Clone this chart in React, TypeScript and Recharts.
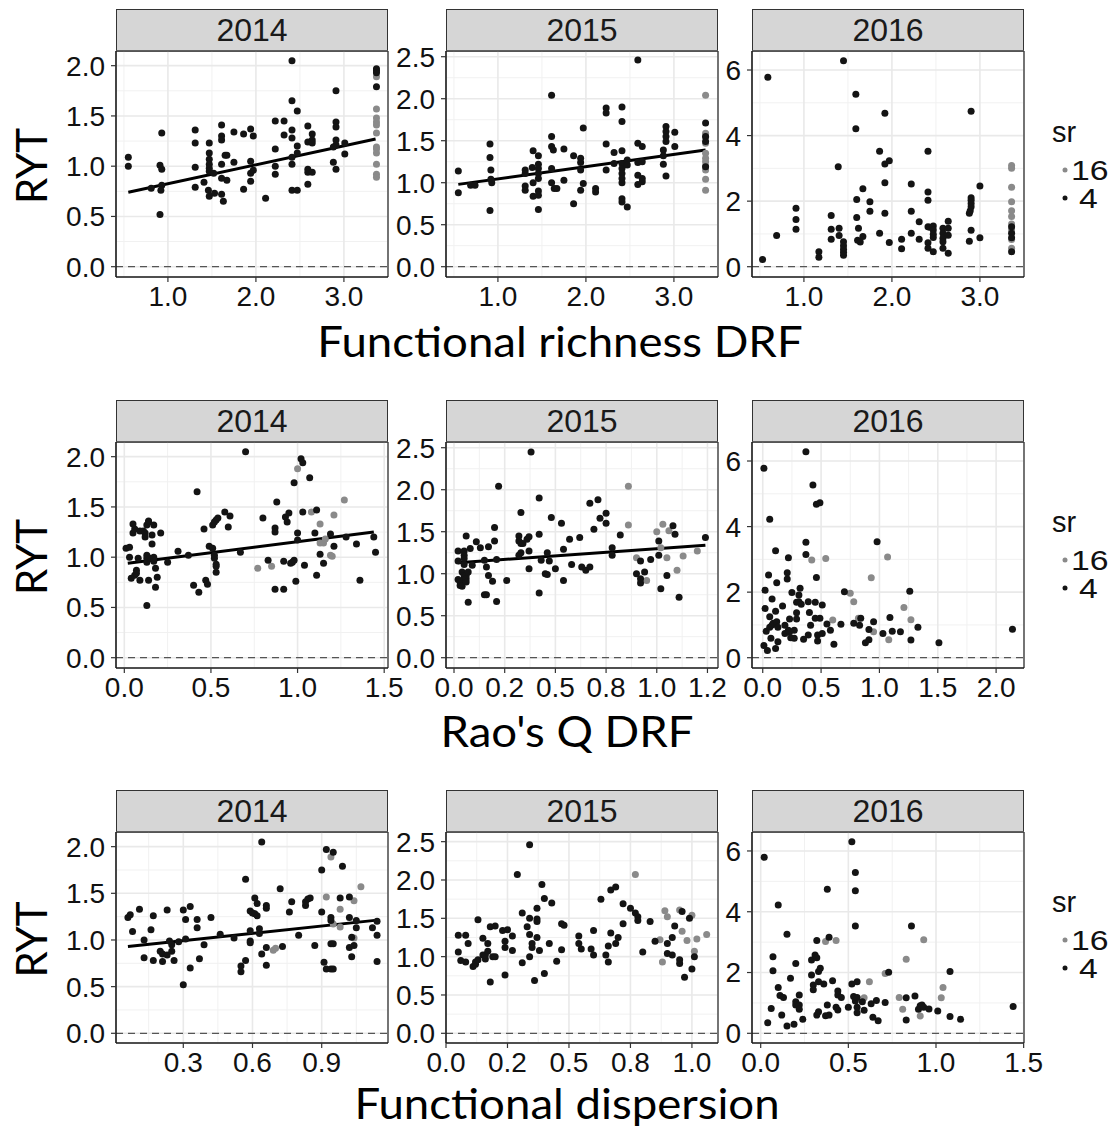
import React from 'react';
import { CartesianGrid, ReferenceLine, Scatter, ScatterChart, XAxis, YAxis } from 'recharts';

type Pt = [number, number];

// ---- Functional richness DRF (x, RYT) ----
const fricBlack2014: Pt[] = [
  [0.55, 1.09], [0.55, 1.0], [0.81, 0.78], [0.93, 1.33], [0.91, 1.01], [0.93, 0.97], [0.93, 0.81], [0.92, 0.76], [0.91, 0.52],
  [1.31, 1.36], [1.31, 1.23], [1.31, 0.99], [1.31, 0.79], [1.41, 0.84],
  [1.47, 1.23], [1.47, 1.13], [1.47, 1.07], [1.47, 1.02], [1.47, 0.98], [1.47, 0.95], [1.46, 0.76], [1.47, 0.7], [1.52, 0.93], [1.53, 0.73],
  [1.61, 1.41], [1.61, 1.3], [1.61, 1.26], [1.61, 1.02], [1.61, 0.88], [1.61, 0.72], [1.63, 0.65], [1.65, 1.11], [1.67, 1.11], [1.67, 0.86],
  [1.75, 1.34], [1.75, 1.04], [1.86, 1.32], [1.86, 0.77], [1.94, 1.37], [1.94, 1.05], [1.94, 0.93], [1.94, 0.85], [1.97, 1.3], [1.97, 0.96],
  [2.11, 0.68], [2.22, 1.45], [2.22, 1.17], [2.22, 1.0], [2.22, 0.92], [2.32, 1.45], [2.32, 1.31],
  [2.41, 2.05], [2.41, 1.65], [2.41, 1.36], [2.41, 1.28], [2.41, 1.09], [2.41, 1.02], [2.41, 0.76],
  [2.47, 1.55], [2.47, 1.2], [2.47, 1.13], [2.47, 0.76],
  [2.59, 1.4], [2.59, 1.24], [2.59, 0.97], [2.59, 0.94], [2.59, 0.82], [2.64, 1.32], [2.64, 1.26], [2.64, 1.23], [2.64, 0.94],
  [2.91, 1.75], [2.91, 1.44], [2.91, 1.39], [2.91, 1.26], [2.91, 1.21], [2.91, 0.97], [2.88, 1.19], [2.88, 1.04],
  [3.01, 1.23], [3.01, 1.12], [3.37, 1.97], [3.37, 1.95], [3.37, 1.93], [3.37, 1.79],
];
const fricGray2014: Pt[] = [
  [3.37, 1.89], [3.37, 1.57], [3.37, 1.48], [3.37, 1.44], [3.37, 1.41], [3.37, 1.33], [3.37, 1.19], [3.37, 1.17],
  [3.37, 1.13], [3.37, 1.02], [3.37, 0.92], [3.37, 0.89],
];
const fricFit2014: Pt[] = [[0.55, 0.74], [3.36, 1.27]];

const fricBlack2015: Pt[] = [
  [0.55, 1.14], [0.55, 0.88], [0.69, 0.97], [0.74, 0.97], [0.91, 1.46], [0.91, 1.3], [0.92, 1.15], [0.92, 1.04], [0.93, 1.0], [0.91, 0.67],
  [1.31, 1.15], [1.31, 1.11], [1.31, 0.96], [1.31, 0.91], [1.39, 1.18], [1.4, 1.38], [1.4, 1.0], [1.4, 0.84],
  [1.46, 1.32], [1.46, 1.22], [1.46, 1.17], [1.46, 1.11], [1.46, 1.05], [1.46, 0.9], [1.46, 0.85], [1.46, 0.68],
  [1.61, 2.04], [1.61, 1.55], [1.61, 1.43], [1.63, 1.39], [1.61, 1.17], [1.61, 1.0], [1.64, 0.93], [1.67, 0.93],
  [1.75, 1.4], [1.75, 1.03], [1.86, 0.75], [1.86, 1.32], [1.94, 1.29], [1.94, 1.24], [1.94, 1.15], [1.94, 0.91], [1.97, 1.65], [1.97, 0.99],
  [2.11, 0.93], [2.11, 0.89], [2.23, 1.89], [2.23, 1.83], [2.23, 1.46], [2.23, 1.15], [2.32, 1.36], [2.32, 1.23],
  [2.41, 1.9], [2.41, 1.73], [2.41, 1.38], [2.41, 1.23], [2.41, 1.17], [2.41, 1.11], [2.41, 1.05], [2.41, 1.0], [2.41, 0.81], [2.41, 0.77],
  [2.47, 0.71], [2.47, 1.27], [2.47, 1.21],
  [2.59, 2.46], [2.59, 1.47], [2.64, 1.43], [2.59, 1.24], [2.59, 1.09], [2.59, 0.98], [2.64, 1.25], [2.64, 1.05], [2.64, 1.01],
  [2.91, 1.67], [2.91, 1.61], [2.91, 1.55], [2.91, 1.49], [2.88, 1.39], [2.88, 1.32], [2.88, 1.22], [2.91, 1.08],
  [3.01, 1.6], [3.01, 1.43], [3.36, 1.71], [3.36, 1.55], [3.36, 1.49], [3.36, 1.19],
];
const fricGray2015: Pt[] = [
  [3.36, 2.04], [3.36, 1.59], [3.36, 1.54], [3.36, 1.47], [3.36, 1.35], [3.36, 1.29], [3.36, 1.25], [3.36, 1.2],
  [3.36, 1.15], [3.36, 1.04], [3.36, 0.91],
];
const fricFit2015: Pt[] = [[0.55, 0.98], [3.36, 1.39]];

const fricBlack2016: Pt[] = [
  [0.53, 0.22], [0.59, 5.78], [0.69, 0.95], [0.91, 1.78], [0.91, 1.44], [0.91, 1.14], [1.17, 0.46], [1.17, 0.29],
  [1.31, 1.56], [1.31, 1.14], [1.31, 0.84], [1.39, 3.05], [1.4, 1.17], [1.4, 0.95],
  [1.45, 6.28], [1.45, 0.76], [1.45, 0.64], [1.45, 0.53], [1.45, 0.44], [1.45, 0.35],
  [1.59, 5.26], [1.59, 4.21], [1.6, 2.05], [1.6, 1.5], [1.62, 1.17], [1.61, 0.81], [1.64, 0.75], [1.67, 2.38], [1.67, 0.92],
  [1.75, 1.98], [1.75, 1.69], [1.86, 3.52], [1.86, 1.02], [1.92, 4.68], [1.92, 3.13], [1.97, 3.23], [1.92, 2.56], [1.92, 1.63], [1.97, 0.74],
  [2.11, 0.84], [2.11, 0.55], [2.22, 2.52], [2.22, 1.69], [2.22, 1.02], [2.31, 1.37], [2.31, 0.84],
  [2.41, 3.52], [2.41, 2.28], [2.41, 2.03], [2.41, 1.22], [2.43, 1.2], [2.41, 0.73], [2.41, 0.56],
  [2.47, 1.24], [2.47, 1.12], [2.47, 0.99], [2.47, 0.89], [2.47, 0.46],
  [2.58, 1.17], [2.58, 1.02], [2.58, 0.87], [2.58, 0.76], [2.58, 0.56], [2.64, 1.39], [2.64, 1.17], [2.64, 0.96], [2.64, 0.41],
  [2.88, 1.63], [2.89, 1.71], [2.9, 2.1], [2.9, 2.03], [2.9, 1.93], [2.9, 1.83], [2.9, 4.74], [2.9, 1.11], [2.88, 0.78],
  [3.0, 2.46], [3.0, 0.88], [3.36, 1.22], [3.36, 1.02], [3.36, 0.88], [3.36, 0.46],
];
const fricGray2016: Pt[] = [
  [3.36, 3.09], [3.36, 3.0], [3.36, 2.42], [3.36, 1.98], [3.36, 1.71], [3.36, 1.53], [3.36, 1.3], [3.36, 1.12], [3.36, 0.83], [3.36, 0.56],
];

// ---- Rao's Q DRF ----
const raoBlack2014: Pt[] = [
  [0.01, 1.09], [0.03, 1.1], [0.03, 1.0], [0.05, 1.33], [0.05, 1.24], [0.06, 1.28], [0.04, 0.79], [0.06, 0.82], [0.07, 0.87], [0.07, 0.84],
  [0.08, 0.99], [0.09, 0.77], [0.09, 1.26], [0.11, 1.26], [0.12, 1.24], [0.12, 1.2], [0.13, 1.32], [0.14, 1.35], [0.14, 1.36], [0.13, 1.02],
  [0.13, 0.99], [0.13, 0.95], [0.13, 0.52], [0.14, 0.77], [0.15, 0.99], [0.16, 1.13], [0.16, 1.22], [0.17, 1.32], [0.17, 1.0], [0.17, 0.96],
  [0.18, 0.89], [0.18, 0.7], [0.19, 0.8], [0.21, 1.24], [0.25, 0.95],
  [0.31, 1.06], [0.37, 1.02], [0.4, 0.72], [0.42, 1.65], [0.43, 0.65], [0.46, 1.28], [0.47, 0.77], [0.48, 0.73], [0.49, 1.11], [0.51, 1.09],
  [0.52, 1.02], [0.52, 0.99], [0.51, 1.32], [0.52, 1.35], [0.53, 1.37], [0.54, 1.39], [0.53, 0.93], [0.53, 0.91], [0.53, 0.85], [0.58, 1.45],
  [0.6, 1.3], [0.61, 1.41], [0.67, 1.05], [0.7, 2.05],
  [0.8, 1.39], [0.83, 0.97], [0.87, 1.29], [0.87, 1.25], [0.87, 0.68], [0.88, 1.55], [0.92, 0.96], [0.92, 0.68], [0.93, 1.4], [0.94, 1.35],
  [0.95, 1.44], [0.96, 0.94], [0.97, 0.95], [0.98, 1.74], [0.98, 0.97], [0.99, 0.76], [1.0, 1.24], [1.0, 1.17], [1.02, 1.98], [1.03, 1.94],
  [1.03, 1.45], [1.04, 0.92], [1.07, 1.79], [1.11, 1.47], [1.1, 1.24], [1.11, 0.82], [1.13, 1.03], [1.15, 0.94], [1.19, 1.23], [1.21, 1.11],
  [1.28, 1.2], [1.34, 1.13], [1.36, 0.77], [1.44, 1.2], [1.45, 1.05],
];
const raoGray2014: Pt[] = [
  [0.77, 0.89], [0.85, 0.91], [1.0, 1.88], [1.08, 1.45], [1.13, 1.33], [1.13, 1.14], [1.15, 1.14], [1.16, 1.18],
  [1.19, 1.02], [1.2, 1.01], [1.21, 1.42], [1.27, 1.57],
];
const raoFit2014: Pt[] = [[0.02, 0.94], [1.44, 1.25]];

const raoBlack2015: Pt[] = [
  [0.02, 1.27], [0.02, 1.15], [0.02, 0.93], [0.03, 0.9], [0.03, 0.86], [0.04, 0.85], [0.05, 1.27], [0.05, 1.22], [0.05, 1.18], [0.05, 1.11],
  [0.06, 1.45], [0.04, 1.02], [0.05, 0.98], [0.05, 0.94], [0.06, 0.98], [0.06, 0.94], [0.07, 1.02], [0.06, 0.9], [0.07, 0.66], [0.08, 1.3],
  [0.09, 1.1], [0.11, 1.38], [0.13, 1.31], [0.15, 1.16], [0.16, 1.08], [0.17, 0.98], [0.15, 0.75], [0.16, 0.75], [0.17, 1.32], [0.19, 0.91],
  [0.2, 1.55], [0.2, 1.39], [0.21, 1.17], [0.21, 0.67], [0.22, 2.04], [0.26, 0.92],
  [0.32, 1.45], [0.32, 1.39], [0.33, 1.25], [0.33, 1.73], [0.33, 1.36], [0.34, 1.36], [0.32, 1.22], [0.36, 1.41], [0.37, 1.44], [0.37, 1.27],
  [0.37, 1.06], [0.38, 2.45], [0.42, 1.9], [0.42, 1.47], [0.42, 0.77], [0.43, 1.16], [0.45, 1.0], [0.46, 0.99], [0.46, 1.25], [0.47, 1.15],
  [0.48, 1.67], [0.5, 1.06], [0.53, 1.6], [0.54, 1.29], [0.54, 0.92], [0.57, 1.41], [0.58, 1.11], [0.62, 1.43], [0.63, 1.08], [0.65, 1.04],
  [0.67, 1.08], [0.67, 1.84], [0.69, 1.53], [0.71, 1.88], [0.72, 1.66], [0.75, 1.72], [0.75, 1.6], [0.78, 1.31], [0.78, 1.22], [0.82, 1.46],
  [0.9, 1.0], [0.92, 0.94], [0.92, 0.89], [0.92, 1.15], [0.94, 1.02], [0.97, 1.17], [1.01, 1.39], [1.01, 1.22], [1.02, 0.82], [1.05, 0.98],
  [1.08, 1.57], [1.09, 1.47], [1.11, 0.72], [1.24, 1.43],
];
const raoGray2015: Pt[] = [
  [0.86, 2.04], [0.86, 1.58], [0.9, 1.19], [0.95, 0.92], [1.0, 1.5], [1.02, 1.31], [1.03, 1.59], [1.05, 1.19],
  [1.06, 1.51], [1.1, 1.04], [1.13, 1.21], [1.2, 1.27],
];
const raoFit2015: Pt[] = [[0.02, 1.13], [1.24, 1.34]];

const raoBlack2016: Pt[] = [
  [0.01, 5.78], [0.06, 4.22], [0.02, 2.06], [0.02, 1.5], [0.01, 0.37], [0.04, 0.22], [0.03, 0.81], [0.05, 2.52], [0.06, 1.25], [0.08, 1.79],
  [0.06, 0.93], [0.07, 0.59], [0.09, 1.05], [0.08, 1.0], [0.11, 1.42], [0.12, 1.1], [0.11, 3.26], [0.12, 2.29], [0.13, 0.49], [0.11, 0.28],
  [0.13, 0.93], [0.17, 1.58], [0.19, 0.99], [0.19, 0.74], [0.21, 2.59], [0.21, 2.4], [0.22, 3.05], [0.23, 1.18], [0.23, 0.79], [0.24, 0.61],
  [0.22, 0.84], [0.25, 1.99], [0.27, 0.84], [0.27, 0.59], [0.29, 1.69], [0.29, 1.37], [0.29, 1.18], [0.31, 1.91], [0.32, 2.12], [0.31, 1.71],
  [0.33, 1.63], [0.35, 0.56], [0.37, 6.28], [0.37, 3.52], [0.37, 3.15], [0.39, 0.69], [0.39, 1.71], [0.4, 1.38], [0.41, 0.99], [0.43, 5.27],
  [0.45, 1.69], [0.45, 1.2], [0.46, 2.45], [0.46, 4.68], [0.49, 4.73], [0.47, 0.69], [0.47, 0.51], [0.49, 1.2], [0.51, 1.61], [0.51, 0.74],
  [0.55, 1.03], [0.58, 0.84], [0.61, 0.41], [0.67, 1.02], [0.7, 2.01], [0.78, 1.05], [0.83, 0.99], [0.84, 1.2], [0.88, 0.46], [0.91, 0.86],
  [0.91, 0.55], [0.95, 1.1], [0.98, 3.54], [1.03, 0.74], [1.09, 1.23], [1.11, 0.81], [1.18, 0.79], [1.26, 2.03], [1.27, 0.54], [1.33, 0.93],
  [1.51, 0.46], [2.14, 0.87],
];
const raoGray2016: Pt[] = [
  [0.42, 2.98], [0.54, 3.03], [0.6, 1.15], [0.75, 1.97], [0.78, 1.71], [0.82, 1.2], [0.93, 2.44], [0.95, 0.79],
  [1.07, 3.07], [1.08, 0.55], [1.21, 1.53], [1.27, 1.16],
];

// ---- Functional dispersion ----
const fdisBlack2014: Pt[] = [
  [0.06, 1.24], [0.07, 1.27], [0.08, 1.09], [0.11, 1.33], [0.13, 1.0], [0.13, 0.81], [0.16, 1.11], [0.17, 1.26], [0.17, 0.78], [0.2, 0.88],
  [0.21, 0.77], [0.21, 0.85], [0.23, 1.32], [0.23, 0.84], [0.24, 0.99], [0.25, 0.95], [0.25, 0.88], [0.26, 0.78], [0.28, 0.98], [0.3, 1.32],
  [0.31, 1.22], [0.31, 1.01], [0.3, 0.52], [0.33, 1.36], [0.33, 0.7], [0.36, 1.22], [0.36, 1.13], [0.37, 0.8], [0.39, 0.95], [0.42, 1.24],
  [0.46, 1.06], [0.52, 1.02], [0.55, 0.72], [0.55, 0.66], [0.57, 1.65], [0.57, 0.78], [0.59, 1.31], [0.6, 1.29], [0.59, 1.1], [0.59, 0.99],
  [0.59, 0.97], [0.61, 1.45], [0.62, 1.39], [0.61, 1.28], [0.62, 1.26], [0.63, 1.12], [0.63, 1.07], [0.64, 2.05], [0.64, 0.85], [0.66, 1.37],
  [0.66, 1.34], [0.66, 0.92], [0.66, 0.73], [0.72, 1.55], [0.73, 0.93], [0.76, 1.3], [0.77, 1.41], [0.8, 1.05], [0.83, 1.37], [0.83, 1.41],
  [0.84, 1.44], [0.85, 1.45], [0.87, 0.94], [0.9, 1.75], [0.9, 1.3], [0.91, 0.76], [0.92, 1.97], [0.92, 0.69], [0.94, 0.69], [0.95, 0.69],
  [0.95, 1.94], [0.94, 1.24], [0.94, 1.21], [0.94, 0.96], [0.95, 0.96], [0.99, 1.79], [0.98, 1.45], [1.02, 1.46], [1.02, 1.24], [1.02, 0.92],
  [1.03, 0.82], [1.03, 1.03], [1.04, 0.94], [1.05, 1.13], [1.05, 1.21], [1.12, 1.13], [1.14, 1.2], [1.14, 1.05], [1.14, 0.77],
];
const fdisGray2014: Pt[] = [
  [0.69, 0.89], [0.7, 0.91], [0.92, 1.46], [0.94, 1.89], [0.95, 1.17], [0.98, 1.33], [0.98, 1.14], [1.04, 1.42], [1.04, 1.02], [1.07, 1.57],
];
const fdisFit2014: Pt[] = [[0.06, 0.93], [1.13, 1.21]];

const fdisBlack2015: Pt[] = [
  [0.05, 1.28], [0.05, 1.06], [0.06, 0.95], [0.08, 0.93], [0.08, 1.28], [0.09, 1.17], [0.11, 0.87], [0.12, 0.9], [0.12, 0.93], [0.13, 0.96],
  [0.13, 1.48], [0.15, 1.24], [0.15, 1.02], [0.16, 0.97], [0.16, 1.02], [0.17, 1.17], [0.17, 1.07], [0.18, 0.67], [0.18, 1.39], [0.2, 1.4],
  [0.19, 1.0], [0.2, 1.0], [0.23, 1.34], [0.25, 1.35], [0.24, 1.2], [0.24, 1.12], [0.24, 0.76], [0.27, 1.27], [0.27, 1.08], [0.29, 2.07],
  [0.31, 1.57], [0.31, 0.92], [0.33, 1.39], [0.34, 2.46], [0.34, 1.5], [0.34, 1.29], [0.34, 1.0], [0.35, 1.17], [0.35, 1.12], [0.36, 0.69],
  [0.37, 1.63], [0.37, 1.49], [0.37, 1.46], [0.37, 1.25], [0.38, 1.08], [0.39, 1.94], [0.4, 1.76], [0.4, 0.78], [0.42, 1.17], [0.43, 1.7],
  [0.45, 0.94], [0.47, 1.09], [0.47, 1.43], [0.48, 1.41], [0.54, 1.27], [0.54, 1.17], [0.55, 1.1], [0.59, 1.1], [0.6, 1.02], [0.6, 1.34],
  [0.63, 1.75], [0.65, 1.02], [0.66, 0.93], [0.66, 1.14], [0.67, 1.87], [0.69, 1.91], [0.67, 1.31], [0.69, 1.17], [0.7, 1.25], [0.72, 1.43],
  [0.72, 1.69], [0.75, 1.63], [0.77, 1.57], [0.78, 1.52], [0.78, 1.47], [0.8, 1.06], [0.83, 1.46], [0.85, 1.2], [0.9, 1.17], [0.9, 1.04],
  [0.92, 1.02], [0.92, 1.25], [0.93, 1.4], [0.96, 1.59], [0.95, 0.96], [0.95, 0.91], [0.97, 0.73], [0.99, 1.5], [1.0, 0.84], [1.01, 1.0],
];
const fdisGray2015: Pt[] = [
  [0.77, 2.07], [0.87, 1.22], [0.88, 0.93], [0.89, 1.6], [0.9, 1.52], [0.95, 1.61], [0.96, 1.33], [0.98, 1.21],
  [1.0, 1.54], [1.01, 1.07], [1.02, 1.23], [1.06, 1.29],
];

const fdisBlack2016: Pt[] = [
  [0.02, 5.79], [0.04, 0.35], [0.06, 0.82], [0.07, 2.52], [0.07, 2.06], [0.1, 4.22], [0.1, 1.51], [0.11, 1.24], [0.13, 1.18], [0.12, 0.6],
  [0.15, 3.26], [0.15, 0.24], [0.17, 1.81], [0.19, 0.3], [0.2, 2.3], [0.2, 1.04], [0.2, 0.93], [0.22, 1.26], [0.22, 0.93], [0.22, 0.79],
  [0.24, 0.46], [0.29, 2.41], [0.29, 1.92], [0.3, 1.59], [0.3, 1.43], [0.31, 2.58], [0.32, 2.49], [0.32, 3.05], [0.33, 2.03], [0.34, 2.14],
  [0.32, 0.6], [0.33, 0.71], [0.33, 1.7], [0.36, 1.62], [0.38, 4.74], [0.38, 0.93], [0.37, 0.58], [0.39, 0.6], [0.39, 3.16], [0.41, 1.73],
  [0.44, 1.39], [0.44, 1.26], [0.43, 0.86], [0.44, 0.77], [0.46, 1.18], [0.5, 0.86], [0.52, 6.3], [0.54, 5.29], [0.54, 4.69], [0.54, 3.53],
  [0.52, 1.62], [0.55, 1.7], [0.53, 1.21], [0.54, 1.06], [0.55, 1.18], [0.55, 0.86], [0.55, 0.68], [0.58, 1.04], [0.59, 0.76], [0.63, 0.97],
  [0.64, 0.53], [0.66, 1.08], [0.67, 0.41], [0.71, 1.01], [0.73, 2.01], [0.83, 1.17], [0.83, 0.44], [0.86, 3.53], [0.88, 1.23], [0.9, 0.79],
  [0.91, 0.91], [0.92, 0.93], [0.93, 0.86], [0.96, 0.8], [1.01, 0.73], [1.08, 2.03], [1.08, 0.55], [1.14, 0.46], [1.44, 0.88],
];
const fdisGray2016: Pt[] = [
  [0.37, 3.02], [0.43, 3.05], [0.59, 1.17], [0.62, 1.7], [0.71, 1.97], [0.79, 1.18], [0.81, 0.79], [0.83, 2.44],
  [0.91, 0.57], [0.93, 3.08], [1.03, 1.17], [1.04, 1.51],
];

// ---- ticks ----
const yTicks2014 = [0, 0.5, 1, 1.5, 2];
const yLabels2014 = ['0.0', '0.5', '1.0', '1.5', '2.0'];
const yMinor2014 = [0.25, 0.75, 1.25, 1.75];
const yTicks2015 = [0, 0.5, 1, 1.5, 2, 2.5];
const yLabels2015 = ['0.0', '0.5', '1.0', '1.5', '2.0', '2.5'];
const yMinor2015 = [0.25, 0.75, 1.25, 1.75, 2.25];
const yTicks2016 = [0, 2, 4, 6];
const yLabels2016 = ['0', '2', '4', '6'];
const yMinor2016 = [1, 3, 5];

const fricXTicks = [1, 2, 3];
const fricXLabels = ['1.0', '2.0', '3.0'];
const fricXMinor = [0.5, 1.5, 2.5, 3.5];
const rao14XTicks = [0, 0.5, 1, 1.5];
const rao14XLabels = ['0.0', '0.5', '1.0', '1.5'];
const rao14XMinor = [0.25, 0.75, 1.25];
const rao15XTicks = [0, 0.25, 0.5, 0.75, 1, 1.25];
const rao15XLabels = ['0.0', '0.2', '0.5', '0.8', '1.0', '1.2'];
const rao15XMinor = [0.125, 0.375, 0.625, 0.875, 1.125];
const rao16XTicks = [0, 0.5, 1, 1.5, 2];
const rao16XLabels = ['0.0', '0.5', '1.0', '1.5', '2.0'];
const rao16XMinor = [0.25, 0.75, 1.25, 1.75];
const fdis14XTicks = [0.3, 0.6, 0.9];
const fdis14XLabels = ['0.3', '0.6', '0.9'];
const fdis14XMinor = [0.15, 0.45, 0.75, 1.05];
const fdis15XTicks = [0, 0.25, 0.5, 0.75, 1];
const fdis15XLabels = ['0.0', '0.2', '0.5', '0.8', '1.0'];
const fdis15XMinor = [0.125, 0.375, 0.625, 0.875];
const fdis16XTicks = [0, 0.5, 1, 1.5];
const fdis16XLabels = ['0.0', '0.5', '1.0', '1.5'];
const fdis16XMinor = [0.25, 0.75, 1.25];

const years = ['2014', '2015', '2016'];
const rowTitles = ['Functional richness DRF', "Rao's Q DRF", 'Functional dispersion'];
const legendTitle = 'sr';
const legendLabels = ['16', '4'];

// ---- layout ----
const COL_LEFT = [116, 446, 752];
const ROW_TOP = [51, 442, 832];
const ROW_H = [226, 226, 211];
const PANEL_W = 272;
const STRIP_H = 42;
const PAD_L = 70;
const PAD_R = 30;
const PAD_T = 14;
const PAD_B = 44;

const BLACK = '#141414';
const GRAY = '#8a8a8a';
const TICK_FONT = '"Liberation Sans", Arial, sans-serif';
const TITLE_FONT = 'Lato, "Open Sans", sans-serif';

interface PanelSpec {
  row: number;
  col: number;
  xDomain: [number, number];
  yDomain: [number, number];
  xTicks: number[];
  xLabels: string[];
  xMinor: number[];
  yTicks: number[];
  yLabels: string[];
  yMinor: number[];
  black: Pt[];
  gray: Pt[];
  fit?: Pt[];
}

const y14 = { yTicks: yTicks2014, yLabels: yLabels2014, yMinor: yMinor2014 };
const y15 = { yTicks: yTicks2015, yLabels: yLabels2015, yMinor: yMinor2015 };
const y16 = { yTicks: yTicks2016, yLabels: yLabels2016, yMinor: yMinor2016 };
const fricX = { xTicks: fricXTicks, xLabels: fricXLabels, xMinor: fricXMinor };

const panels: PanelSpec[] = [
  { row: 0, col: 0, xDomain: [0.41, 3.501], yDomain: [-0.1025, 2.146], ...fricX, ...y14, black: fricBlack2014, gray: fricGray2014, fit: fricFit2014 },
  { row: 0, col: 1, xDomain: [0.41, 3.501], yDomain: [-0.1226, 2.568], ...fricX, ...y15, black: fricBlack2015, gray: fricGray2015, fit: fricFit2015 },
  { row: 0, col: 2, xDomain: [0.41, 3.501], yDomain: [-0.314, 6.58], ...fricX, ...y16, black: fricBlack2016, gray: fricGray2016 },
  { row: 1, col: 0, xDomain: [-0.048, 1.522], yDomain: [-0.1025, 2.146], xTicks: rao14XTicks, xLabels: rao14XLabels, xMinor: rao14XMinor, ...y14, black: raoBlack2014, gray: raoGray2014, fit: raoFit2014 },
  { row: 1, col: 1, xDomain: [-0.0395, 1.302], yDomain: [-0.1226, 2.568], xTicks: rao15XTicks, xLabels: rao15XLabels, xMinor: rao15XMinor, ...y15, black: raoBlack2015, gray: raoGray2015, fit: raoFit2015 },
  { row: 1, col: 2, xDomain: [-0.092, 2.239], yDomain: [-0.314, 6.58], xTicks: rao16XTicks, xLabels: rao16XLabels, xMinor: rao16XMinor, ...y16, black: raoBlack2016, gray: raoGray2016 },
  { row: 2, col: 0, xDomain: [0.0083, 1.1874], yDomain: [-0.104, 2.157], xTicks: fdis14XTicks, xLabels: fdis14XLabels, xMinor: fdis14XMinor, ...y14, black: fdisBlack2014, gray: fdisGray2014, fit: fdisFit2014 },
  { row: 2, col: 1, xDomain: [0, 1.106], yDomain: [-0.1265, 2.626], xTicks: fdis15XTicks, xLabels: fdis15XLabels, xMinor: fdis15XMinor, ...y15, black: fdisBlack2015, gray: fdisGray2015 },
  { row: 2, col: 2, xDomain: [-0.0496, 1.502], yDomain: [-0.319, 6.624], xTicks: fdis16XTicks, xLabels: fdis16XLabels, xMinor: fdis16XMinor, ...y16, black: fdisBlack2016, gray: fdisGray2016 },
];

const toXY = (pts: Pt[]) => pts.map(([x, y]) => ({ x, y }));

const dot = (fill: string, r: number) => (props: any) => (
  <circle cx={props.cx} cy={props.cy} r={r} fill={fill} />
);

const tickStyle = { fontSize: 28, fill: '#111', fontFamily: TICK_FONT };

const Panel = ({ p }: { p: PanelSpec }) => {
  const left = COL_LEFT[p.col];
  const top = ROW_TOP[p.row];
  const h = ROW_H[p.row];
  return (
    <>
      <div
        style={{
          position: 'absolute',
          left,
          top: top - STRIP_H,
          width: PANEL_W,
          height: STRIP_H + 1,
          boxSizing: 'border-box',
          background: '#D6D6D6',
          border: '1.3px solid #333',
          display: 'flex',
          alignItems: 'center',
          justifyContent: 'center',
          fontFamily: TICK_FONT,
          fontSize: 32,
          color: '#1a1a1a',
        }}
      >
        {years[p.col]}
      </div>
      <div style={{ position: 'absolute', left: left - PAD_L, top: top - PAD_T }}>
        <ScatterChart
          width={PANEL_W + PAD_L + PAD_R}
          height={h + PAD_T + PAD_B}
          margin={{ top: PAD_T, right: PAD_R, bottom: 0, left: 0 }}
        >
          <CartesianGrid horizontalValues={p.yMinor} verticalValues={p.xMinor} stroke="#F1F1F1" strokeWidth={1} />
          <CartesianGrid stroke="#E9E9E9" strokeWidth={1.6} />
          <XAxis
            type="number"
            dataKey="x"
            domain={p.xDomain}
            ticks={p.xTicks}
            interval={0}
            allowDataOverflow
            height={PAD_B}
            tickSize={5}
            tickMargin={4}
            tick={tickStyle}
            tickFormatter={(v: number) => p.xLabels[p.xTicks.indexOf(v)] ?? String(v)}
            axisLine={{ stroke: '#1a1a1a', strokeWidth: 1.6 }}
            tickLine={{ stroke: '#333', strokeWidth: 1.2 }}
          />
          <YAxis
            type="number"
            dataKey="y"
            domain={p.yDomain}
            ticks={p.yTicks}
            interval={0}
            allowDataOverflow
            width={PAD_L}
            tickSize={5}
            tickMargin={6}
            tick={tickStyle}
            tickFormatter={(v: number) => p.yLabels[p.yTicks.indexOf(v)] ?? String(v)}
            axisLine={{ stroke: '#1a1a1a', strokeWidth: 1.6 }}
            tickLine={{ stroke: '#333', strokeWidth: 1.2 }}
          />
          <ReferenceLine y={p.yDomain[1]} stroke="#333" strokeWidth={1.3} ifOverflow="visible" />
          <ReferenceLine x={p.xDomain[1]} stroke="#333" strokeWidth={1.3} ifOverflow="visible" />
          <ReferenceLine y={0} stroke="#555" strokeWidth={1.3} strokeDasharray="7 5" />
          <Scatter data={toXY(p.gray)} fill={GRAY} shape={dot(GRAY, 3.5)} isAnimationActive={false} />
          <Scatter data={toXY(p.black)} fill={BLACK} shape={dot(BLACK, 3.5)} isAnimationActive={false} />
          {p.fit && (
            <ReferenceLine
              segment={[{ x: p.fit[0][0], y: p.fit[0][1] }, { x: p.fit[1][0], y: p.fit[1][1] }]}
              stroke="#000"
              strokeWidth={3}
              ifOverflow="visible"
            />
          )}
        </ScatterChart>
      </div>
    </>
  );
};

const titleCenterX = [560, 567, 567];
const titleBaseline = [357, 747, 1119];
const legendTop = [142, 532, 912];

export default function App() {
  return (
    <div style={{ position: 'absolute', left: 0, top: 0, width: 1117, height: 1129, background: '#fff', overflow: 'hidden' }}>
      {panels.map((p) => (
        <Panel key={`${p.row}-${p.col}`} p={p} />
      ))}
      <svg width={1117} height={1129} style={{ position: 'absolute', left: 0, top: 0, pointerEvents: 'none' }}>
        {rowTitles.map((t, r) => {
          const cy = ROW_TOP[r] + ROW_H[r] / 2 + 2;
          const lt = legendTop[r];
          return (
            <g key={t}>
              <text
                transform={`translate(47, ${cy}) rotate(-90)`}
                textAnchor="middle"
                fontFamily={TITLE_FONT}
                fontSize={42}
                fill="#000"
              >
                RYT
              </text>
              <text
                transform={`translate(${titleCenterX[r]}, ${titleBaseline[r]}) scale(1.06, 1)`}
                textAnchor="middle"
                fontFamily={TITLE_FONT}
                fontSize={43}
                fill="#000"
              >
                {t}
              </text>
              <text x={1052} y={lt} fontFamily={TICK_FONT} fontSize={29} fill="#111">
                {legendTitle}
              </text>
              <circle cx={1065} cy={lt + 28} r={2.5} fill={GRAY} />
              <text transform={`translate(1071, ${lt + 37.5}) scale(1.25, 1)`} fontFamily={TICK_FONT} fontSize={27} fill="#111">
                {legendLabels[0]}
              </text>
              <circle cx={1065} cy={lt + 56} r={2.5} fill={BLACK} />
              <text transform={`translate(1079, ${lt + 65.5}) scale(1.25, 1)`} fontFamily={TICK_FONT} fontSize={27} fill="#111">
                {legendLabels[1]}
              </text>
            </g>
          );
        })}
      </svg>
    </div>
  );
}
